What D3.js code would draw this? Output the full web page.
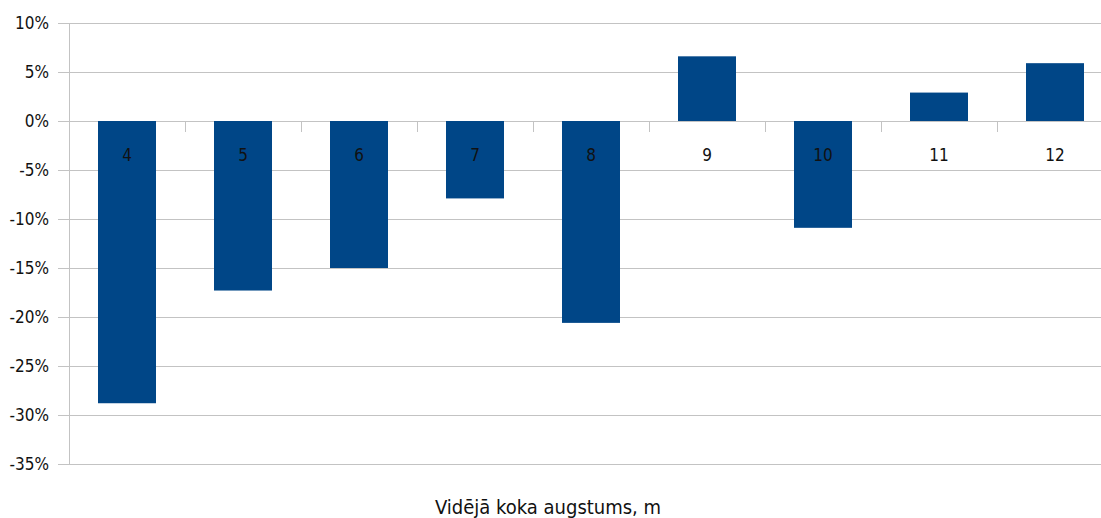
<!DOCTYPE html>
<html><head><meta charset="utf-8">
<script src="https://cdn.jsdelivr.net/npm/d3@7"></script>
<style>
body{margin:0;background:#fff;}
text{font-family:"DejaVu Sans Condensed","DejaVu Sans",sans-serif;font-stretch:condensed;fill:#111;}
</style></head><body>
<svg id="c" width="1101" height="518"></svg>
<script>
const categories = ["4","5","6","7","8","9","10","11","12"];
const values = [-28.8, -17.3, -15.0, -7.9, -20.6, 6.6, -10.9, 2.9, 5.9];
const yTicks = [10, 5, 0, -5, -10, -15, -20, -25, -30, -35];
const xTitle = "Vidējā koka augstums, m";

const svg = d3.select("#c");
const left = 69, bandW = 116;
const x = d3.scaleBand().domain(categories).range([left, left + bandW*categories.length]).paddingInner(0.5).paddingOuter(0.25);
const y = d3.scaleLinear().domain([-35, 10]).range([464, 23]);

// gridlines
svg.append("g").selectAll("line").data(yTicks).join("line")
  .attr("x1", 58).attr("x2", 1101)
  .attr("y1", d => Math.round(y(d)) + 0.5).attr("y2", d => Math.round(y(d)) + 0.5)
  .attr("stroke", "#c3c3c3").attr("stroke-width", 1);
// y axis line
svg.append("line").attr("x1", left + 0.5).attr("x2", left + 0.5)
  .attr("y1", y(10)).attr("y2", y(-35)).attr("stroke", "#c3c3c3");
// y labels
svg.append("g").selectAll("text").data(yTicks).join("text")
  .attr("x", 49).attr("y", d => y(d)).attr("dy", "0.36em")
  .attr("text-anchor", "end").attr("font-size", 17)
  .text(d => d + "%");

// bars
svg.append("g").selectAll("rect").data(values).join("rect")
  .attr("x", (d, i) => x(categories[i]))
  .attr("width", x.bandwidth())
  .attr("y", d => y(Math.max(0, d)))
  .attr("height", d => Math.abs(y(d) - y(0)))
  .attr("fill", "#004687");

// category boundary ticks at zero
const bounds = d3.range(1, categories.length + 1).map(i => left + i * bandW);
svg.append("g").selectAll("line").data(bounds).join("line")
  .attr("x1", d => d + 0.5).attr("x2", d => d + 0.5)
  .attr("y1", y(0)).attr("y2", y(0) + 11)
  .attr("stroke", "#c3c3c3");
svg.append("line").attr("x1", left + 0.5).attr("x2", left + 0.5)
  .attr("y1", y(0)).attr("y2", y(0) + 11).attr("stroke", "#c3c3c3");

// category labels
svg.append("g").selectAll("text").data(categories).join("text")
  .attr("x", d => x(d) + x.bandwidth()/2).attr("y", y(0) + 40)
  .attr("text-anchor", "middle").attr("font-size", 17)
  .text(d => d);

svg.append("text").attr("x", 548).attr("y", 514).attr("text-anchor", "middle")
  .attr("font-size", 20).text(xTitle);
</script></body></html>
